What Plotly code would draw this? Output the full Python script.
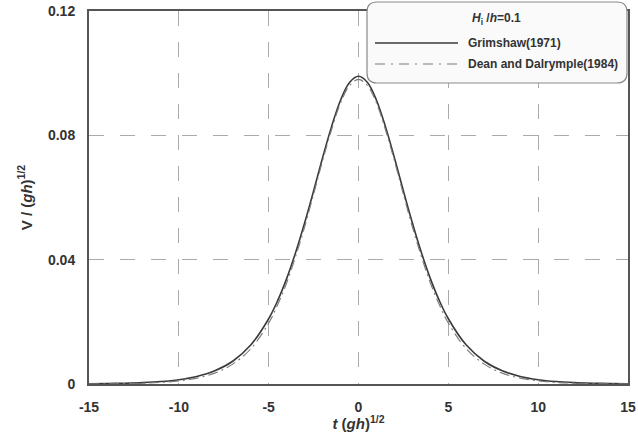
import plotly.graph_objects as go

# Data
t_vals = [-15, -14, -13, -12, -11, -10, -9, -8, -7, -6, -5, -4.5, -4, -3.5, -3, -2.5, -2, -1.5, -1, -0.5,
          0, 0.5, 1, 1.5, 2, 2.5, 3, 3.5, 4, 4.5, 5, 6, 7, 8, 9, 10, 11, 12, 13, 14, 15]
grimshaw = [0.00008, 0.00015, 0.00026, 0.00045, 0.00079, 0.00139, 0.00243, 0.00425, 0.00733, 0.01252,
            0.0210, 0.0268, 0.0339, 0.0423, 0.0518, 0.0621, 0.0728, 0.0828, 0.0913, 0.0970,
            0.0990, 0.0970, 0.0913, 0.0828, 0.0728, 0.0621, 0.0518, 0.0423, 0.0339, 0.0268,
            0.0210, 0.01252, 0.00733, 0.00425, 0.00243, 0.00139, 0.00079, 0.00045, 0.00026, 0.00015, 0.00008]
dean = [0.00004, 0.00008, 0.00014, 0.00027, 0.0005, 0.0010, 0.0019, 0.0035, 0.0064, 0.0113,
        0.0196, 0.0255, 0.0325, 0.0410, 0.0505, 0.0610, 0.0718, 0.0818, 0.0904, 0.0960,
        0.0980, 0.0960, 0.0904, 0.0818, 0.0718, 0.0610, 0.0505, 0.0410, 0.0325, 0.0255,
        0.0196, 0.0113, 0.0064, 0.0035, 0.0019, 0.0010, 0.0005, 0.00027, 0.00014, 0.00008, 0.00004]
x_ticks = [-15, -10, -5, 0, 5, 10, 15]
x_tick_text = ["-15", "-10", "-5", "0", "5", "10", "15"]
y_ticks = [0, 0.04, 0.08, 0.12]
y_tick_text = ["0", "0.04", "0.08", "0.12"]
series_names = ["Grimshaw(1971)", "Dean and Dalrymple(1984)"]
legend_title = "<i>H</i><sub>i</sub> /<i>h</i>=0.1"

FONT = "Liberation Sans, Arial, sans-serif"
TXT = "#333333"
SOLID = "#3a3a3a"
DASHC = "#7a7a7a"
GRID = "#aaaaaa"

fig = go.Figure()
fig.add_trace(go.Scatter(x=t_vals, y=grimshaw, mode="lines", name=series_names[0],
                         line=dict(color=SOLID, width=1.6), line_shape="spline", showlegend=False))
fig.add_trace(go.Scatter(x=t_vals, y=dean, mode="lines", name=series_names[1],
                         line=dict(color=DASHC, width=1.1, dash="10px,4px,2px,4px"),
                         line_shape="spline", showlegend=False))

axis_common = dict(showline=True, linecolor="#555555", linewidth=2, mirror=True,
                   showgrid=True, gridcolor=GRID, gridwidth=1, griddash="15px,16px",
                   zeroline=False, ticks="outside", ticklen=9, tickcolor="rgba(0,0,0,0)",
                   automargin=False,
                   tickfont=dict(family=FONT, size=14, color=TXT, weight="bold"))

fig.update_xaxes(range=[-15, 15], tickvals=x_ticks, ticktext=x_tick_text, **axis_common,
                 title=dict(text="<i>t</i> (<i>gh</i>)<sup>1/2</sup>",
                            font=dict(family=FONT, size=15, color=TXT, weight="bold"),
                            standoff=5))
fig.update_yaxes(range=[0, 0.12], tickvals=y_ticks, ticktext=y_tick_text, **axis_common,
                 title=dict(text="V / (<i>gh</i>)<sup>1/2</sup>",
                            font=dict(family=FONT, size=15, color=TXT, weight="bold"),
                            standoff=12))

# Manual legend box with rounded corners (paper coordinates)
W, H = 638, 432
ml, mr, mt, mb = 89, 10, 11, 48
pw, ph = W - ml - mr, H - mt - mb

def px(x):
    return (x - ml) / pw

def py(y):
    return (H - mb - y) / ph

x0, x1, y0, y1, r = 367, 627, 2, 83, 10
path = (f"M {px(x0 + r)},{py(y0)} L {px(x1 - r)},{py(y0)} "
        f"Q {px(x1)},{py(y0)} {px(x1)},{py(y0 + r)} L {px(x1)},{py(y1 - r)} "
        f"Q {px(x1)},{py(y1)} {px(x1 - r)},{py(y1)} L {px(x0 + r)},{py(y1)} "
        f"Q {px(x0)},{py(y1)} {px(x0)},{py(y1 - r)} L {px(x0)},{py(y0 + r)} "
        f"Q {px(x0)},{py(y0)} {px(x0 + r)},{py(y0)} Z")
fig.add_shape(type="path", path=path, xref="paper", yref="paper",
              fillcolor="#fafafa", line=dict(color="#8a8a8a", width=1.2), layer="above")
fig.add_shape(type="line", xref="paper", yref="paper", x0=px(375), x1=px(458), y0=py(43), y1=py(43),
              line=dict(color=SOLID, width=1.6), layer="above")
fig.add_shape(type="line", xref="paper", yref="paper", x0=px(375), x1=px(458), y0=py(64), y1=py(64),
              line=dict(color=DASHC, width=1.1, dash="10px,6px,2px,6px"), layer="above")

fig.add_annotation(x=px(496), y=py(19), xref="paper", yref="paper", text=legend_title,
                   showarrow=False, xanchor="center", yanchor="middle",
                   font=dict(family=FONT, size=12, color=TXT, weight="bold"))
fig.add_annotation(x=px(466), y=py(43), xref="paper", yref="paper", text=series_names[0],
                   showarrow=False, xanchor="left", yanchor="middle",
                   font=dict(family=FONT, size=12, color=TXT, weight="bold"))
fig.add_annotation(x=px(466), y=py(64), xref="paper", yref="paper", text=series_names[1],
                   showarrow=False, xanchor="left", yanchor="middle",
                   font=dict(family=FONT, size=12, color=TXT, weight="bold"))

fig.update_layout(width=W, height=H, margin=dict(l=ml, r=mr, t=mt, b=mb, autoexpand=False),
                  paper_bgcolor="white", plot_bgcolor="white", showlegend=False)

fig.write_html("out.html")
